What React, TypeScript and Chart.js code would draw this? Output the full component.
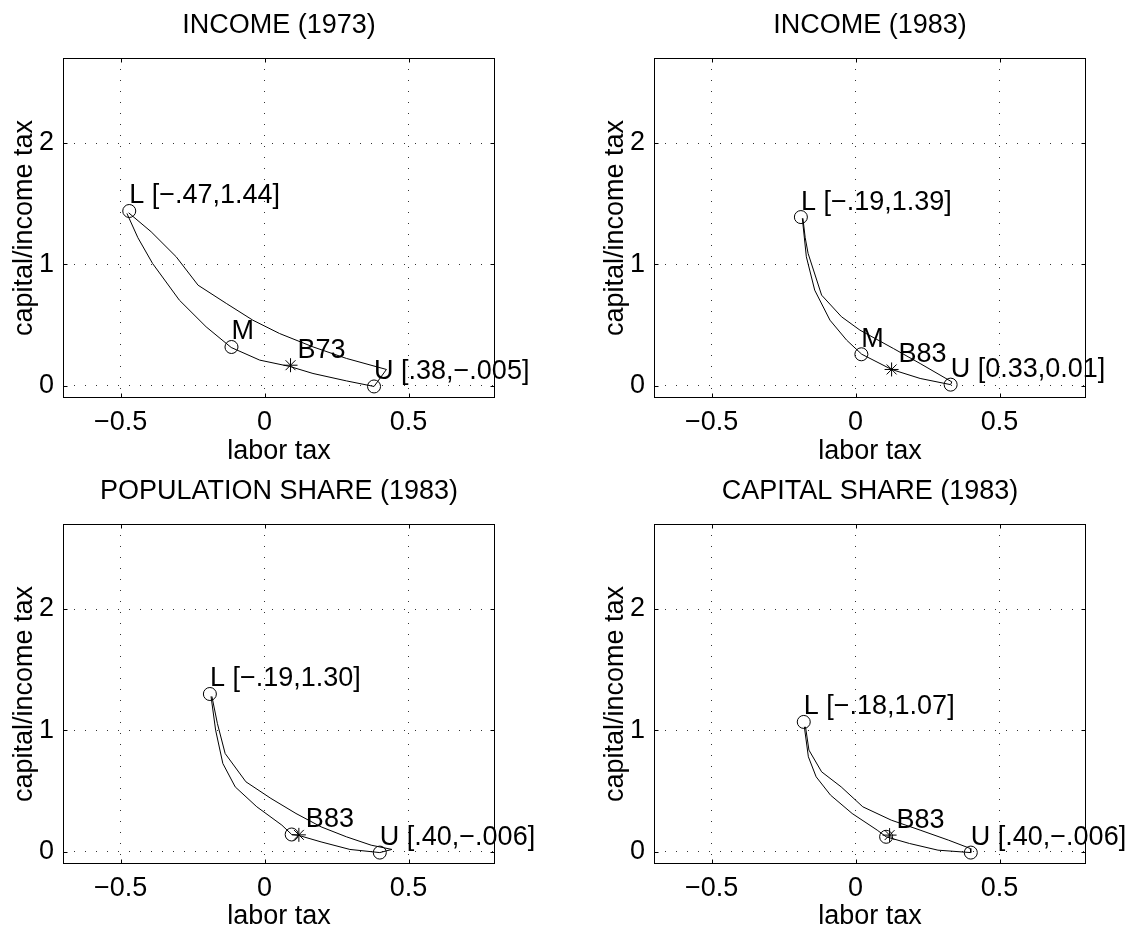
import React, { useEffect, useRef } from "react";
import { Chart, registerables } from "chart.js";

Chart.register(...registerables);

const FONT = '"Liberation Sans", Arial, Helvetica, sans-serif';
const FS = 27;

// shared axes
const xLimits = [-0.7, 0.8];
const yLimits = [-0.1, 2.7];
const xTickValues = [-0.5, 0, 0.5];
const yTickValues = [0, 1, 2];
const xAxisLabel = "labor tax";
const yAxisLabel = "capital/income tax";

// Panel 1: INCOME (1973)
const income73Title = "INCOME (1973)";
const income73Upper = [
  [-0.472, 1.425], [-0.394, 1.269], [-0.307, 1.063], [-0.231, 0.829], [-0.133, 0.679],
  [-0.041, 0.541], [0.052, 0.431], [0.168, 0.321], [0.284, 0.226], [0.423, 0.135], [0.38, -0.005],
];
const income73Lower = [
  [-0.478, 1.42], [-0.44, 1.22], [-0.389, 1.008], [-0.296, 0.706], [-0.203, 0.486],
  [-0.116, 0.316], [-0.017, 0.212], [0.087, 0.16], [0.168, 0.102], [0.284, 0.041], [0.38, -0.005],
];
const income73Circles = [[-0.47, 1.44], [-0.115, 0.32], [0.38, -0.005]];
const income73CircleLabels = ["L [−.47,1.44]", "M", "U [.38,−.005]"];
const income73Star = [0.09, 0.17];
const income73StarLabel = "B73";

// Panel 2: INCOME (1983)
const income83Title = "INCOME (1983)";
const income83Upper = [
  [-0.183, 1.38], [-0.175, 1.22], [-0.165, 1.091], [-0.118, 0.747], [-0.049, 0.569],
  [0.015, 0.459], [0.131, 0.308], [0.224, 0.184], [0.334, 0.033], [0.33, 0.01],
];
const income83Lower = [
  [-0.185, 1.38], [-0.171, 1.063], [-0.142, 0.788], [-0.089, 0.541], [-0.031, 0.376],
  [0.021, 0.261], [0.125, 0.135], [0.224, 0.061], [0.33, 0.01],
];
const income83Circles = [[-0.19, 1.39], [0.02, 0.26], [0.33, 0.01]];
const income83CircleLabels = ["L [−.19,1.39]", "M", "U [0.33,0.01]"];
const income83Star = [0.125, 0.135];
const income83StarLabel = "B83";

// Panel 3: POPULATION SHARE (1983)
const pop83Title = "POPULATION SHARE (1983)";
const pop83Upper = [
  [-0.183, 1.28], [-0.164, 1.058], [-0.137, 0.81], [-0.065, 0.577], [0.022, 0.44],
  [0.109, 0.316], [0.196, 0.206], [0.284, 0.124], [0.37, 0.055], [0.442, 0.02], [0.4, -0.006],
];
const pop83Lower = [
  [-0.186, 1.28], [-0.17, 1.002], [-0.145, 0.728], [-0.102, 0.535], [-0.027, 0.371],
  [0.06, 0.22], [0.094, 0.143], [0.119, 0.135], [0.196, 0.082], [0.296, 0.02], [0.4, -0.006],
];
const pop83Circles = [[-0.19, 1.3], [0.094, 0.143], [0.4, -0.006]];
const pop83CircleLabels = ["L [−.19,1.30]", "", "U [.40,−.006]"];
const pop83Star = [0.119, 0.14];
const pop83StarLabel = "B83";

// Panel 4: CAPITAL SHARE (1983)
const cap83Title = "CAPITAL SHARE (1983)";
const cap83Upper = [
  [-0.174, 1.03], [-0.162, 0.838], [-0.118, 0.659], [-0.05, 0.535], [0.025, 0.371],
  [0.124, 0.261], [0.224, 0.179], [0.323, 0.096], [0.398, 0.028], [0.4, -0.006],
];
const cap83Lower = [
  [-0.178, 1.03], [-0.164, 0.783], [-0.137, 0.618], [-0.087, 0.467], [-0.012, 0.316],
  [0.075, 0.179], [0.106, 0.124], [0.187, 0.069], [0.286, 0.014], [0.4, -0.006],
];
const cap83Circles = [[-0.18, 1.07], [0.106, 0.124], [0.4, -0.006]];
const cap83CircleLabels = ["L [−.18,1.07]", "", "U [.40,−.006]"];
const cap83Star = [0.118, 0.138];
const cap83StarLabel = "B83";

const panels = [
  { title: income73Title, upper: income73Upper, lower: income73Lower, circles: income73Circles, circleLabels: income73CircleLabels, star: income73Star, starLabel: income73StarLabel },
  { title: income83Title, upper: income83Upper, lower: income83Lower, circles: income83Circles, circleLabels: income83CircleLabels, star: income83Star, starLabel: income83StarLabel },
  { title: pop83Title, upper: pop83Upper, lower: pop83Lower, circles: pop83Circles, circleLabels: pop83CircleLabels, star: pop83Star, starLabel: pop83StarLabel },
  { title: cap83Title, upper: cap83Upper, lower: cap83Lower, circles: cap83Circles, circleLabels: cap83CircleLabels, star: cap83Star, starLabel: cap83StarLabel },
];

// layout boxes (canvas position and chart area inside canvas)
const boxes = [
  { x: 0, y: 0, w: 565, h: 465, padL: 0, l: 63, r: 495, t: 58, b: 398 },
  { x: 565, y: 0, w: 566, h: 465, padL: 26, l: 89, r: 521, t: 58, b: 398 },
  { x: 0, y: 465, w: 565, h: 466, padL: 0, l: 63, r: 495, t: 59, b: 399 },
  { x: 565, y: 465, w: 566, h: 466, padL: 26, l: 89, r: 521, t: 59, b: 399 },
];

const toPts = (arr: number[][]) => arr.map((p) => ({ x: p[0], y: p[1] }));
const fmt = (v: number) => (v < 0 ? "\u2212" + String(Math.abs(v)) : String(v));

const framePlugin = {
  id: "matlabFrame",
  afterDatasetsDraw(chart: any) {
    const { ctx, chartArea: a, scales } = chart;
    ctx.save();
    ctx.strokeStyle = "#000";
    ctx.lineWidth = 1;
    ctx.strokeRect(a.left + 0.5, a.top + 0.5, a.right - a.left - 1, a.bottom - a.top - 1);
    const tl = 4.5;
    ctx.beginPath();
    xTickValues.forEach((v) => {
      const px = Math.round(scales.x.getPixelForValue(v)) + 0.5;
      ctx.moveTo(px, a.bottom);
      ctx.lineTo(px, a.bottom - tl);
      ctx.moveTo(px, a.top);
      ctx.lineTo(px, a.top + tl);
    });
    yTickValues.forEach((v) => {
      const py = Math.round(scales.y.getPixelForValue(v)) + 0.5;
      ctx.moveTo(a.left, py);
      ctx.lineTo(a.left + tl, py);
      ctx.moveTo(a.right, py);
      ctx.lineTo(a.right - tl, py);
    });
    ctx.stroke();
    ctx.restore();
  },
};

const labelPlugin = {
  id: "pointLabels",
  afterDatasetsDraw(chart: any, _args: any, opts: any) {
    const { ctx, scales } = chart;
    const p = opts.panel;
    ctx.save();
    ctx.font = `${FS}px ${FONT}`;
    ctx.fillStyle = "#000";
    ctx.textAlign = "left";
    ctx.textBaseline = "middle";
    p.circles.forEach((c: number[], i: number) => {
      const txt = p.circleLabels[i];
      if (!txt) return;
      ctx.fillText(txt, scales.x.getPixelForValue(c[0]), scales.y.getPixelForValue(c[1]) - 15);
    });
    ctx.fillText(p.starLabel, scales.x.getPixelForValue(p.star[0]) + 7, scales.y.getPixelForValue(p.star[1]) - 15);
    ctx.restore();
  },
};

function Panel({ panel, box }: { panel: any; box: any }) {
  const ref = useRef<HTMLCanvasElement>(null);
  useEffect(() => {
    const canvas = ref.current;
    if (!canvas) return;
    const font = { family: FONT, size: FS, weight: "normal" as const, lineHeight: 1 };
    const gridCommon = { display: true, drawOnChartArea: true, drawTicks: false, color: "#333", lineWidth: 1 };
    const chart = new Chart(canvas, {
      type: "scatter",
      data: {
        datasets: [
          { data: toPts(panel.upper), showLine: true, borderColor: "#000", borderWidth: 1, pointRadius: 0, pointHoverRadius: 0, tension: 0 },
          { data: toPts(panel.lower), showLine: true, borderColor: "#000", borderWidth: 1, pointRadius: 0, pointHoverRadius: 0, tension: 0 },
          { data: toPts(panel.circles), showLine: false, pointStyle: "circle", pointRadius: 6.5, pointBorderColor: "#000", pointBackgroundColor: "rgba(0,0,0,0)", pointBorderWidth: 1 },
          { data: toPts([panel.star]), showLine: false, pointStyle: "star", pointRadius: 7, pointBorderColor: "#000", pointBackgroundColor: "rgba(0,0,0,0)", pointBorderWidth: 1 },
        ],
      } as any,
      options: {
        responsive: false,
        animation: false,
        devicePixelRatio: 1,
        events: [],
        layout: { padding: { left: box.padL, right: box.w - box.r, top: 0, bottom: 0 } },
        plugins: {
          legend: { display: false },
          tooltip: { enabled: false },
          title: {
            display: true,
            text: panel.title,
            fullSize: false,
            color: "#000",
            font,
            padding: { top: box.t - 45.9, bottom: 18.9 },
          },
          pointLabels: { panel },
        } as any,
        scales: {
          x: {
            type: "linear",
            min: xLimits[0],
            max: xLimits[1],
            afterBuildTicks: (s: any) => {
              s.ticks = xTickValues.map((v) => ({ value: v }));
            },
            afterFit: (s: any) => {
              s.height = box.h - box.b;
            },
            ticks: { color: "#000", font, padding: 11, maxRotation: 0, autoSkip: false, callback: (v: any) => fmt(Number(v)) },
            grid: gridCommon,
            border: { display: false, dash: [1, 10] },
            title: { display: true, text: xAxisLabel, color: "#000", font, padding: { top: 0, bottom: box.h - 465.2 } },
          },
          y: {
            type: "linear",
            min: yLimits[0],
            max: yLimits[1],
            afterBuildTicks: (s: any) => {
              s.ticks = yTickValues.map((v) => ({ value: v }));
            },
            afterFit: (s: any) => {
              s.width = box.l - box.padL;
            },
            ticks: { color: "#000", font, padding: 9, autoSkip: false, callback: (v: any) => fmt(Number(v)) },
            grid: gridCommon,
            border: { display: false, dash: [1, 10] },
            title: { display: true, text: yAxisLabel, color: "#000", font, padding: { top: 10.8, bottom: 0 } },
          },
        } as any,
      },
      plugins: [framePlugin, labelPlugin],
    });
    return () => chart.destroy();
  }, [panel, box]);
  return (
    <canvas
      ref={ref}
      width={box.w}
      height={box.h}
      style={{ position: "absolute", left: box.x, top: box.y, width: box.w, height: box.h }}
    />
  );
}

export default function App() {
  return (
    <div style={{ position: "absolute", left: 0, top: 0, width: 1131, height: 931, background: "#fff", overflow: "hidden" }}>
      {panels.map((p, i) => (
        <Panel key={i} panel={p} box={boxes[i]} />
      ))}
    </div>
  );
}
